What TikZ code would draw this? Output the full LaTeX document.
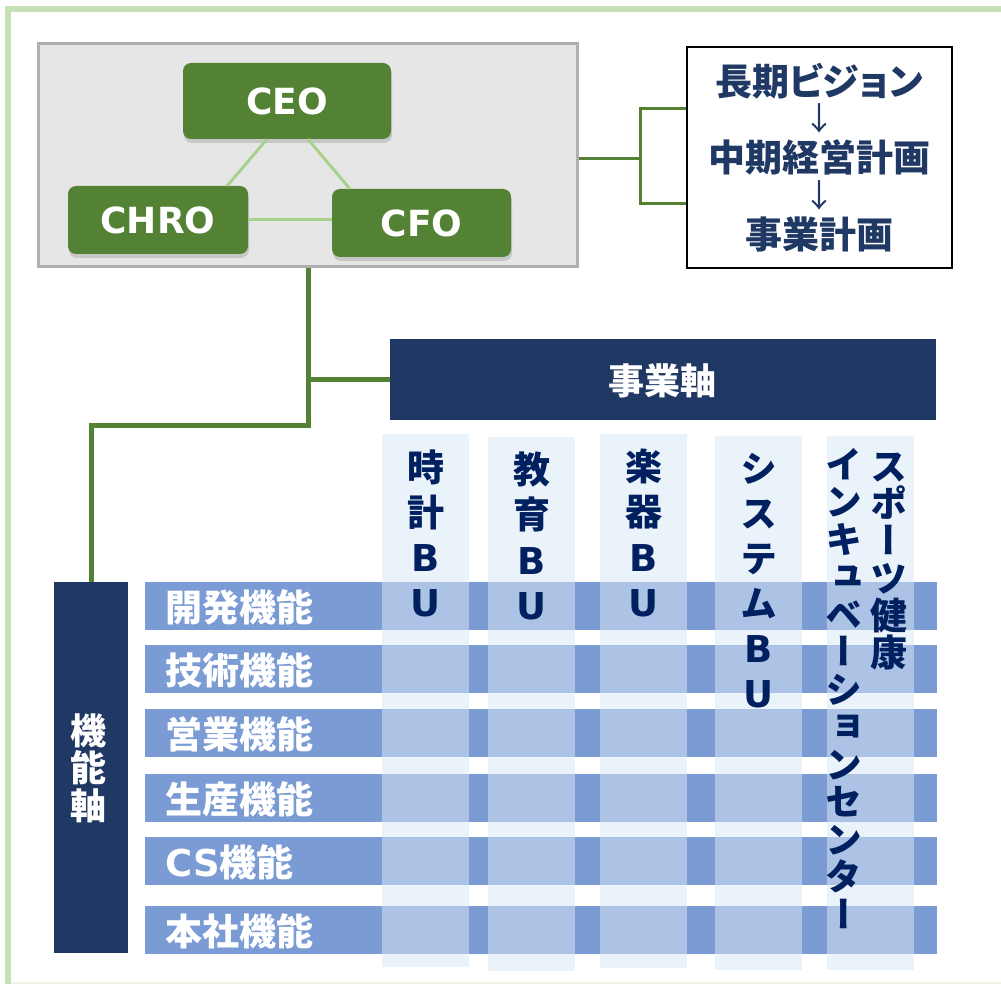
\documentclass[tikz,border=0pt]{standalone}
\usepackage{fontspec}
\setmainfont{DejaVu Sans}
\newfontfamily\dv{DejaVu Sans}
\newfontfamily\jp{Noto Sans CJK JP}
\newfontfamily\jpp{Noto Sans CJK JP}[RawFeature=+palt]
\newfontfamily\jpv{Noto Sans CJK JP}[RawFeature=+vert]
\usetikzlibrary{shadows,calc}
\definecolor{dgreen}{HTML}{548235}
\definecolor{lgreen}{HTML}{A9D18E}
\definecolor{framegreen}{HTML}{C5E0B4}
\definecolor{boxgray}{HTML}{E6E6E6}
\definecolor{boxborder}{HTML}{AFAFAF}
\definecolor{navy}{HTML}{203864}
\definecolor{textnavy}{HTML}{002060}
\definecolor{rowblue}{HTML}{7B9BD5}
\definecolor{collight}{HTML}{EBF3FA}
\definecolor{cellblue}{HTML}{ADC3E5}
\tikzset{
  exec/.style={fill=dgreen, rounded corners=8pt, inner sep=0pt, text=white,
    drop shadow={shadow xshift=1pt, shadow yshift=-4pt, opacity=0.3},
    font=\dv\bfseries\fontsize{36}{36}\selectfont},
  tri/.style={lgreen, line width=3pt},
  link/.style={dgreen, line width=3pt},
  trunk/.style={dgreen, line width=5pt},
  navybar/.style={fill=navy, inner sep=0pt},
  rowbar/.style={fill=rowblue, inner sep=0pt, minimum width=792pt, minimum height=48pt},
  colbar/.style={fill=collight, inner sep=0pt, minimum width=87pt},
  vch/.style={text=textnavy, inner sep=0pt, text height=32.6pt, text depth=4.4pt,
    font=\jpv\bfseries\fontsize{37}{37}\selectfont},
  axisch/.style={text=white, inner sep=0pt, text height=31.7pt, text depth=4.3pt,
    font=\jp\bfseries\fontsize{36}{36}\selectfont},
  rowlab/.style={anchor=west, text=white, inner sep=0pt, text height=32.6pt, text depth=4.4pt,
    font=\jp\bfseries\fontsize{37}{37}\selectfont},
  plantext/.style={text=navy, inner sep=0pt, text height=32.6pt, text depth=4.4pt,
    font=\jp\bfseries\fontsize{37}{37}\selectfont},
  planarrow/.style={text=navy, inner sep=0pt, font=\jp\fontsize{32}{32}\selectfont},
}
\begin{document}
\begin{tikzpicture}[x=1pt,y=-1pt]
\useasboundingbox (0,0) rectangle (1001,984);
\fill[white] (0,0) rectangle (1001,984);
% outer frame
\draw[framegreen, line width=6pt] (8,990) -- (8,9) -- (1010,9);
\draw[framegreen!35, line width=2pt] (11,983) -- (1001,983);

% top management box
\node[draw=boxborder, fill=boxgray, line width=3pt, inner sep=0pt,
      minimum width=539pt, minimum height=223pt] (top) at (307.5,155.5) {};
\node[exec, minimum width=208pt, minimum height=76pt] (ceo) at (287,101) {CEO};
\node[exec, minimum width=180pt, minimum height=68pt] (chro) at (158,220) {CHRO};
\node[exec, minimum width=179pt, minimum height=68pt] (cfo) at (421.5,223) {CFO};
\draw[tri] ($(ceo.south)+(-20,0)$) -- ($(chro.north east)+(-21,0)$);
\draw[tri] ($(ceo.south)+(21,0)$) -- ($(cfo.north west)+(18,0)$);
\draw[tri] (chro.east) -- (chro.east -| cfo.west);

% plan box
\node[draw=black, fill=white, line width=2pt, inner sep=0pt,
      minimum width=265pt, minimum height=221pt] (plan) at (819.5,157.5) {};
\node[plantext, font=\jpp\bfseries\fontsize{37}{37}\selectfont] (p1) at (819,81) {長期ビジョン};
\node[planarrow] (pa1) at (819,118) {↓};
\node[plantext] (p2) at (819,157) {中期経営計画};
\node[planarrow] (pa2) at (819,195) {↓};
\node[plantext] (p3) at (819,234) {事業計画};

\coordinate (br) at (640,159);
\coordinate (bt) at (640,109);
\coordinate (bb) at (640,204);
\draw[link] (top.east |- br) -- (br);
\draw[link] (plan.west |- bt) -- (bt) -- (bb) -- (plan.west |- bb);

% axes
\node[navybar, minimum width=546pt, minimum height=81pt] (jigyo) at (663,379.5) {};
\node[text=white, inner sep=0pt, font=\jp\bfseries\fontsize{36}{36}\selectfont] (jigyot) at (662,381) {事業軸};
\node[navybar, minimum width=74pt, minimum height=371pt] (kinou) at (91,767.5) {};
\node[axisch] (kn1) at (88,731) {機};
\node[axisch] (kn2) at (88,768) {能};
\node[axisch] (kn3) at (88,806) {軸};

\coordinate (j1) at (308,379.5);
\coordinate (j2) at (308,425);
\coordinate (j3) at (91,425);
\draw[trunk] (top.south -| j1) -- (j2) -- (j3) -- (j3 |- kinou.north);
\draw[trunk] (j1) -- (jigyo.west |- j1);

% columns
\node[colbar, minimum height=533pt] (c1) at (425.5,700.5) {};
\node[colbar, minimum height=534pt] (c2) at (531.5,704) {};
\node[colbar, minimum height=534pt] (c3) at (643.5,701) {};
\node[colbar, minimum height=534pt] (c4) at (758.5,703) {};
\node[colbar, minimum height=534pt] (c5) at (870.5,703) {};

% rows
\node[rowbar] (r1) at (541,606) {};
\node[rowbar] (r2) at (541,669) {};
\node[rowbar] (r3) at (541,733) {};
\node[rowbar] (r4) at (541,798) {};
\node[rowbar] (r5) at (541,861) {};
\node[rowbar] (r6) at (541,930) {};

\foreach \c in {1,...,5}
  \foreach \r in {1,...,6}
    \fill[cellblue] (c\c.west |- r\r.north) rectangle (c\c.east |- r\r.south);

\node[rowlab] (l1) at (165,607) {開発機能};
\node[rowlab] (l2) at (165,670) {技術機能};
\node[rowlab] (l3) at (165,734) {営業機能};
\node[rowlab] (l4) at (165,799) {生産機能};
\node[rowlab] (l5) at (165,862) {{\dv CS}機能};
\node[rowlab] (l6) at (165,931) {本社機能};

% column texts
\foreach \ch [count=\i] in {時,計,{\dv B},{\dv U}}
  \node[vch] (t1-\i) at (425.5,{467+45*(\i-1)}) {\ch};
\foreach \ch [count=\i] in {教,育,{\dv B},{\dv U}}
  \node[vch] (t2-\i) at (532,{469+45.5*(\i-1)}) {\ch};
\foreach \ch [count=\i] in {楽,器,{\dv B},{\dv U}}
  \node[vch] (t3-\i) at (644,{466.5+45.2*(\i-1)}) {\ch};
\foreach \ch [count=\i] in {シ,ス,テ,ム,{\dv B},{\dv U}}
  \node[vch] (t4-\i) at (759,{468+45.1*(\i-1)}) {\ch};
\foreach \ch [count=\i] in {ス,ポ,ー,ツ,健,康}
  \node[vch] (t5-\i) at (888.5,{466+37.3*(\i-1)}) {\ch};
\foreach \ch [count=\i] in {イ,ン,キ,ュ,ベ,ー,シ,ョ,ン,セ,ン,タ,ー}
  \node[vch] (t6-\i) at (844,{464+37.5*(\i-1)}) {\ch};
\end{tikzpicture}
\end{document}
